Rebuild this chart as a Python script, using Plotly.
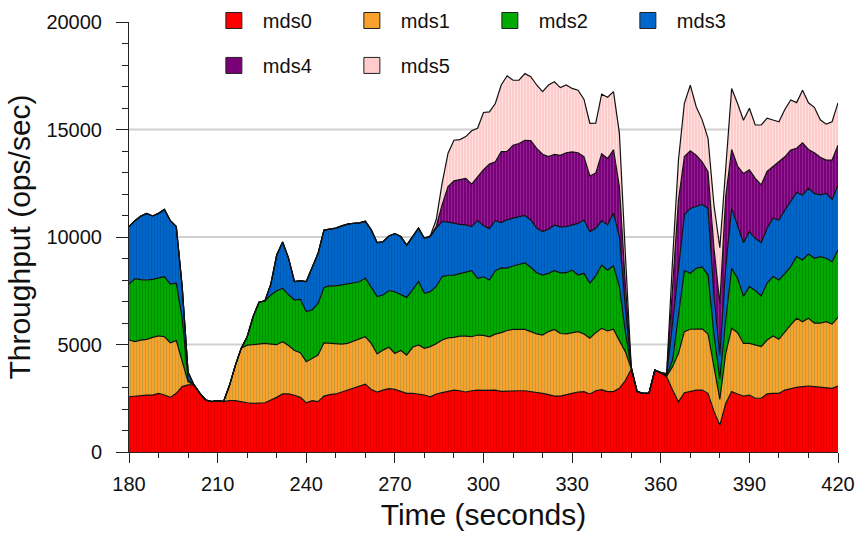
import plotly.graph_objects as go

# Sample times (seconds), one reading every 2 s
seconds = list(range(180, 421, 2))

# Per-server throughput (ops/sec); the areas are stacked mds0 -> mds5
mds0 = [2570, 2600, 2600, 2650, 2650, 2730, 2650, 2540, 2730, 3040,
        3120, 3120, 2730, 2420, 2340, 2390, 2340, 2390, 2390, 2330,
        2290, 2260, 2260, 2290, 2420, 2540, 2700, 2700, 2640, 2540,
        2290, 2390, 2340, 2600, 2670, 2700, 2790, 2880, 2950, 3040,
        3160, 2910, 2790, 2880, 2950, 2910, 2810, 2730, 2730, 2700,
        2650, 2570, 2700, 2760, 2810, 2880, 2850, 2790, 2850, 2880,
        2870, 2880, 2880, 2820, 2840, 2850, 2850, 2850, 2820, 2790,
        2730, 2670, 2600, 2600, 2650, 2730, 2790, 2810, 2700, 2850,
        2900, 2810, 2810, 2960, 3320, 3840, 2810, 2730, 2730, 3810,
        3690, 3500, 2880, 2340, 2760, 2810, 2880, 2880, 2730, 1900,
        1250, 2260, 2810, 2700, 2600, 2650, 2500, 2500, 2700, 2730,
        2730, 2880, 2960, 3010, 3040, 3070, 3040, 3010, 2960, 2960,
        3070]

mds1 = [2640, 2530, 2600, 2590, 2680, 2670, 2710, 2540, 2450, 1160,
        140, 0, 0, 0, 0, 0, 0, 700, 1640, 2500,
        2680, 2730, 2760, 2760, 2600, 2450, 2430, 2250, 2080, 2080,
        1910, 1970, 2170, 2480, 2390, 2360, 2230, 2170, 2200, 2200,
        2200, 2140, 1770, 1860, 1920, 1670, 1910, 1780, 2140, 2280,
        2170, 2330, 2330, 2450, 2500, 2450, 2540, 2600, 2510, 2560,
        2550, 2480, 2600, 2730, 2810, 2850, 2850, 2850, 2780, 2700,
        2710, 2930, 3100, 2910, 2840, 2820, 2810, 2680, 2590, 2700,
        2850, 2820, 2900, 2220, 1350, 40, 0, 0, 0, 0,
        0, 30, 1090, 2250, 2840, 2900, 2850, 2850, 2760, 2000,
        1200, 2330, 2940, 2850, 2450, 2400, 2480, 2400, 2510, 2670,
        2510, 2710, 2950, 3210, 3020, 3150, 2950, 2980, 3100, 2990,
        3190]

mds2 = [2600, 2930, 2820, 2760, 2700, 2680, 2790, 2730, 2670, 2020,
        100, 0, 0, 0, 0, 0, 0, 0, 0, 0,
        390, 1300, 1950, 1980, 2280, 2510, 2480, 2360, 2360, 2480,
        2330, 2250, 2400, 2570, 2670, 2670, 2760, 2790, 2730, 2680,
        2730, 2640, 2670, 2560, 2640, 2870, 2590, 2680, 2670, 2950,
        2560, 2560, 2670, 2950, 2910, 2900, 2910, 2980, 3070, 2640,
        2730, 2640, 2950, 3010, 2900, 2950, 3040, 3100, 2990, 2850,
        2790, 2710, 2730, 2820, 2850, 2910, 2630, 2820, 2560, 2640,
        2950, 2830, 2950, 2510, 930, 30, 0, 0, 0, 0,
        0, 30, 310, 1860, 2840, 2600, 2810, 2880, 2740, 1600,
        950, 1550, 2790, 2530, 2200, 2640, 2530, 2360, 2640, 2760,
        2760, 2710, 2710, 2870, 2870, 2990, 3020, 3100, 2950, 2900,
        3130]

mds3 = [2670, 2700, 2950, 3100, 2950, 3020, 3130, 2950, 2640, 1470,
        350, 0, 0, 0, 0, 0, 0, 0, 0, 0,
        0, 0, 0, 0, 510, 1660, 2160, 1710, 850, 870,
        1400, 2020, 2330, 2670, 2650, 2680, 2740, 2760, 2760, 2740,
        2640, 2640, 2510, 2480, 2540, 2710, 2710, 2430, 2480, 2480,
        2560, 2560, 2710, 2560, 2470, 2400, 2290, 2190, 2050, 2680,
        2370, 2400, 2330, 2110, 2250, 2230, 2200, 2200, 2200, 2060,
        2020, 2050, 2120, 2140, 2140, 2090, 2400, 2480, 2400, 2220,
        2050, 2110, 2450, 2330, 1160, 20, 0, 0, 0, 0,
        0, 30, 1710, 2170, 2590, 3020, 2900, 2910, 3100, 1800,
        1100, 2480, 2790, 2400, 2480, 2560, 2430, 2480, 2560, 2710,
        2790, 2950, 3020, 2980, 3020, 3050, 3020, 2870, 3020, 2900,
        3020]

mds4 = [0, 0, 0, 0, 0, 0, 0, 0, 0, 0,
        0, 0, 0, 0, 0, 0, 0, 0, 0, 0,
        0, 0, 0, 0, 0, 0, 0, 0, 0, 0,
        0, 0, 0, 0, 0, 0, 0, 0, 0, 0,
        0, 0, 0, 0, 0, 0, 0, 0, 0, 0,
        0, 20, 80, 780, 1660, 1980, 2080, 2170, 1980, 2050,
        2610, 2990, 2740, 3300, 3180, 3390, 3410, 3500, 3690, 3720,
        3600, 3380, 3290, 3330, 3440, 3410, 3290, 2950, 2590, 2560,
        3120, 3080, 2950, 2330, 1090, 20, 0, 0, 0, 0,
        0, 30, 1710, 3100, 2710, 2680, 2370, 1970, 1710, 2200,
        2400, 3260, 2740, 2820, 3220, 2870, 2790, 2680, 2640, 2400,
        2710, 2480, 2400, 2060, 2430, 1810, 1890, 1750, 1550, 1830,
        1860]

mds5 = [0, 0, 0, 0, 0, 0, 0, 0, 0, 0,
        0, 0, 0, 0, 0, 0, 0, 0, 0, 0,
        0, 0, 0, 0, 0, 0, 0, 0, 0, 0,
        0, 0, 0, 0, 0, 0, 0, 0, 0, 0,
        0, 0, 0, 0, 0, 0, 0, 0, 0, 0,
        0, 20, 310, 1010, 1550, 1890, 1860, 1940, 2480, 2250,
        2660, 2430, 2710, 3100, 3520, 3020, 2950, 3100, 2980, 2950,
        2910, 3330, 3380, 3150, 3150, 2950, 2910, 2670, 2450, 2330,
        2770, 2850, 2700, 2480, 1400, 20, 0, 0, 0, 0,
        0, 40, 1240, 1860, 2480, 3050, 2250, 1970, 1550, 2000,
        2600, 1400, 2840, 2910, 2480, 2870, 2480, 2790, 2480, 2170,
        1860, 2200, 2330, 2120, 2450, 2170, 2110, 1740, 1670, 1780,
        1970]

names = ["mds0", "mds1", "mds2", "mds3", "mds4", "mds5"]
series = [mds0, mds1, mds2, mds3, mds4, mds5]
fills = ["#ff0000", "#f9a12c", "#00aa00", "#0066cc", "#7a007a", "#ffcccc"]
stripes = ["#c80000", "#9a9a40", "#007a00", "#00509e", "#a040a0", "#fff0f0"]
legend_of = ["legend", "legend", "legend", "legend", "legend2", "legend2"]

FONT = "Liberation Sans, Arial, sans-serif"

fig = go.Figure()

# Stacked areas with a thin dark outline on each layer's top edge
for name, vals, fc, sc in zip(names, series, fills, stripes):
    fig.add_trace(go.Scatter(
        x=seconds, y=vals, name=name, stackgroup="mds",
        mode="lines", line=dict(color="#111111", width=1.2),
        fillcolor=fc,
        fillpattern=dict(shape="|", size=3, solidity=0.3,
                         fgcolor=sc, bgcolor=fc, fgopacity=0.6),
        showlegend=False, hoverinfo="x+y+name",
    ))

# Square legend swatches, four per row
for name, fc, lg in zip(names, fills, legend_of):
    fig.add_trace(go.Scatter(
        x=[None], y=[None], name=name, mode="markers", legend=lg,
        marker=dict(symbol="square", size=18, color=fc,
                    line=dict(color="#222222", width=1)),
    ))

# Light horizontal guide lines behind the areas
for level in (5000, 10000, 15000):
    fig.add_shape(type="line", xref="paper", x0=0, x1=1, yref="y",
                  y0=level, y1=level, layer="below",
                  line=dict(color="#d0d0d0", width=2))

legend_style = dict(orientation="h", xanchor="left", yanchor="middle",
                    font=dict(family=FONT, size=20, color="#111111"),
                    bgcolor="rgba(0,0,0,0)", itemwidth=48,
                    entrywidthmode="pixels", entrywidth=75,
                    traceorder="normal", itemclick=False)

fig.update_layout(
    width=859, height=533,
    margin=dict(l=129, r=21, t=22, b=81, autoexpand=False),
    paper_bgcolor="white", plot_bgcolor="white",
    font=dict(family=FONT, color="#111111"),
    showlegend=True,
    legend=dict(x=0.107, y=1.0035, **legend_style),
    legend2=dict(x=0.107, y=0.899, **legend_style),
    xaxis=dict(
        range=[180, 420], tickmode="array",
        tickvals=[180, 210, 240, 270, 300, 330, 360, 390, 420],
        ticks="outside", ticklen=10, tickwidth=1, tickcolor="#222222",
        minor=dict(dtick=10, ticks="outside", ticklen=5, tickcolor="#222222"),
        showline=True, linecolor="#222222", linewidth=1,
        showgrid=False, zeroline=False, layer="below traces",
        tickfont=dict(family=FONT, size=20, color="#111111"),
        ticklabelstandoff=4,
        title=dict(text="Time (seconds)", standoff=9,
                   font=dict(family=FONT, size=30, color="#111111")),
    ),
    yaxis=dict(
        range=[0, 20000], tickmode="linear", tick0=0, dtick=5000,
        tickformat="d",
        ticks="outside", ticklen=12, tickwidth=1, tickcolor="#222222",
        minor=dict(dtick=1000, ticks="outside", ticklen=6, tickcolor="#222222"),
        showline=True, linecolor="#222222", linewidth=1,
        showgrid=False, zeroline=False, layer="below traces",
        tickfont=dict(family=FONT, size=20, color="#111111"),
        ticklabelstandoff=10,
        title=dict(text="Throughput (ops/sec)", standoff=6,
                   font=dict(family=FONT, size=30, color="#111111")),
    ),
)

fig.write_html("out.html")
